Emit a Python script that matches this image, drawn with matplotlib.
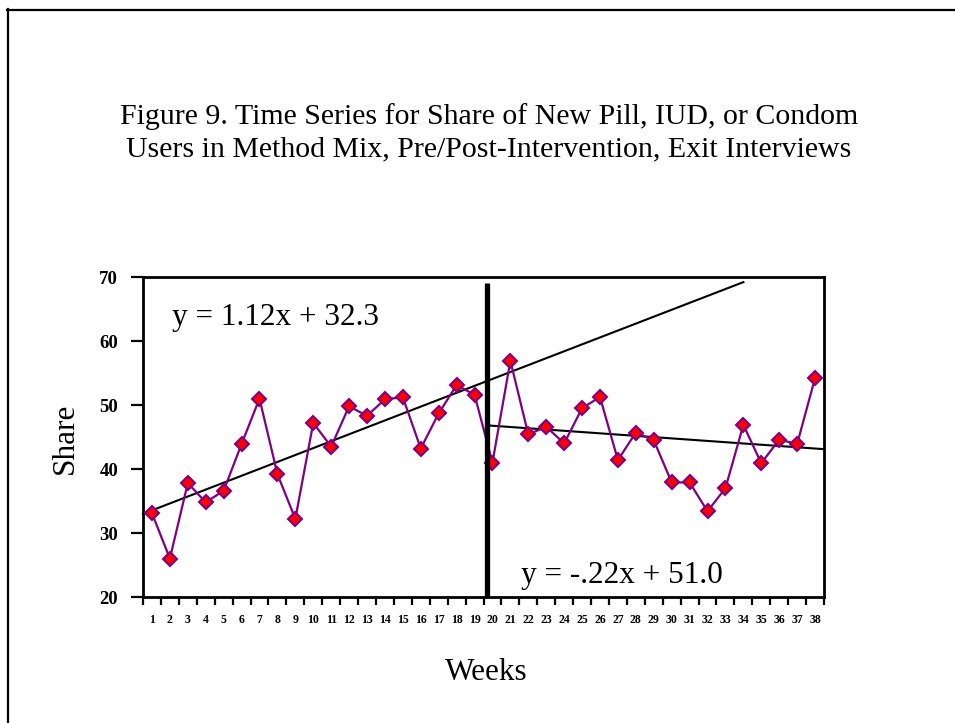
import matplotlib
matplotlib.use("Agg")
import matplotlib.pyplot as plt
from matplotlib.lines import Line2D
import numpy as np

weeks = list(range(1, 39))
share = [33.1, 26.0, 37.8, 34.8, 36.6, 43.9, 51.0, 39.2, 32.2, 47.2,
         43.5, 49.8, 48.3, 50.9, 51.2, 43.2, 48.7, 53.1, 51.6, 41.0,
         56.9, 45.4, 46.6, 44.0, 49.5, 51.25, 41.4, 45.7, 44.5, 37.9,
         37.9, 33.4, 37.0, 46.9, 40.9, 44.6, 43.9, 54.2]

# trend line endpoints as drawn in the chart
pre_x = [0.5, 34.0]
pre_y = [33.0, 69.2]
post_x = [19.8, 38.5]
post_y = [46.8, 43.1]
intervention_x = 19.72
intervention_top = 69.1

title = ("Figure 9. Time Series for Share of New Pill, IUD, or Condom\n"
         "Users in Method Mix, Pre/Post-Intervention, Exit Interviews")
eq_pre = "y = 1.12x + 32.3"
eq_post = "y = -.22x + 51.0"

plt.rcParams['font.family'] = ['Liberation Serif', 'DejaVu Serif']

fig = plt.figure(figsize=(9.55, 7.23), dpi=100)

# outer frame (left and top lines only visible)
fig.add_artist(Line2D([8/955, 8/955], [0, 1 - 9/723], transform=fig.transFigure,
                      color='black', lw=1.6))
fig.add_artist(Line2D([7/955, 1], [1 - 9.5/723, 1 - 9.5/723], transform=fig.transFigure,
                      color='black', lw=1.6))

fig.text(489/955, 1 - 133/723, title, ha='center', va='center', fontsize=21.5,
         linespacing=1.3)

ax = fig.add_axes([143/955, 1 - 597/723, 681/955, 320/723])

ax.plot(weeks, share, color='#800080', lw=1.6, marker='D', markersize=7,
        markerfacecolor='#ff0000', markeredgecolor='#800080', markeredgewidth=1.5,
        zorder=3)

ax.plot(pre_x, pre_y, color='black', lw=1.5, zorder=2, clip_on=False)
ax.plot(post_x, post_y, color='black', lw=1.5, zorder=2)
ax.plot([intervention_x, intervention_x], [20, intervention_top], color='black',
        lw=3.8, zorder=4, solid_capstyle='butt')

ax.set_xlim(0.5, 38.5)
ax.set_ylim(20, 70)
ax.set_yticks([20, 30, 40, 50, 60, 70])
ax.set_xticks(np.arange(0.5, 39, 1))
ax.set_xticklabels([])
ax.set_xticks(weeks, minor=True)
ax.set_xticklabels([str(w) for w in weeks], minor=True)
ax.tick_params(axis='x', which='major', direction='out', length=6, width=1.6)
ax.tick_params(axis='x', which='minor', length=0, pad=12, labelsize=8.5)
ax.tick_params(axis='y', direction='out', length=9, width=1.6, labelsize=13.5, pad=9)
for lab in ax.get_xticklabels(minor=True) + ax.get_yticklabels():
    lab.set_fontweight('bold')
for s in ax.spines.values():
    s.set_linewidth(2)

fig.text(172/955, 1 - 317/723, eq_pre, ha='left', va='center', fontsize=22.5)
fig.text(521/955, 1 - 576/723, eq_post, ha='left', va='center', fontsize=22.5)

fig.text(65/955, 1 - 438/723, "Share", rotation=90, ha='center', va='center', fontsize=22.5)
fig.text(486/955, 1 - 673/723, "Weeks", ha='center', va='center', fontsize=22.5)

fig.savefig("out.png", dpi=100)
